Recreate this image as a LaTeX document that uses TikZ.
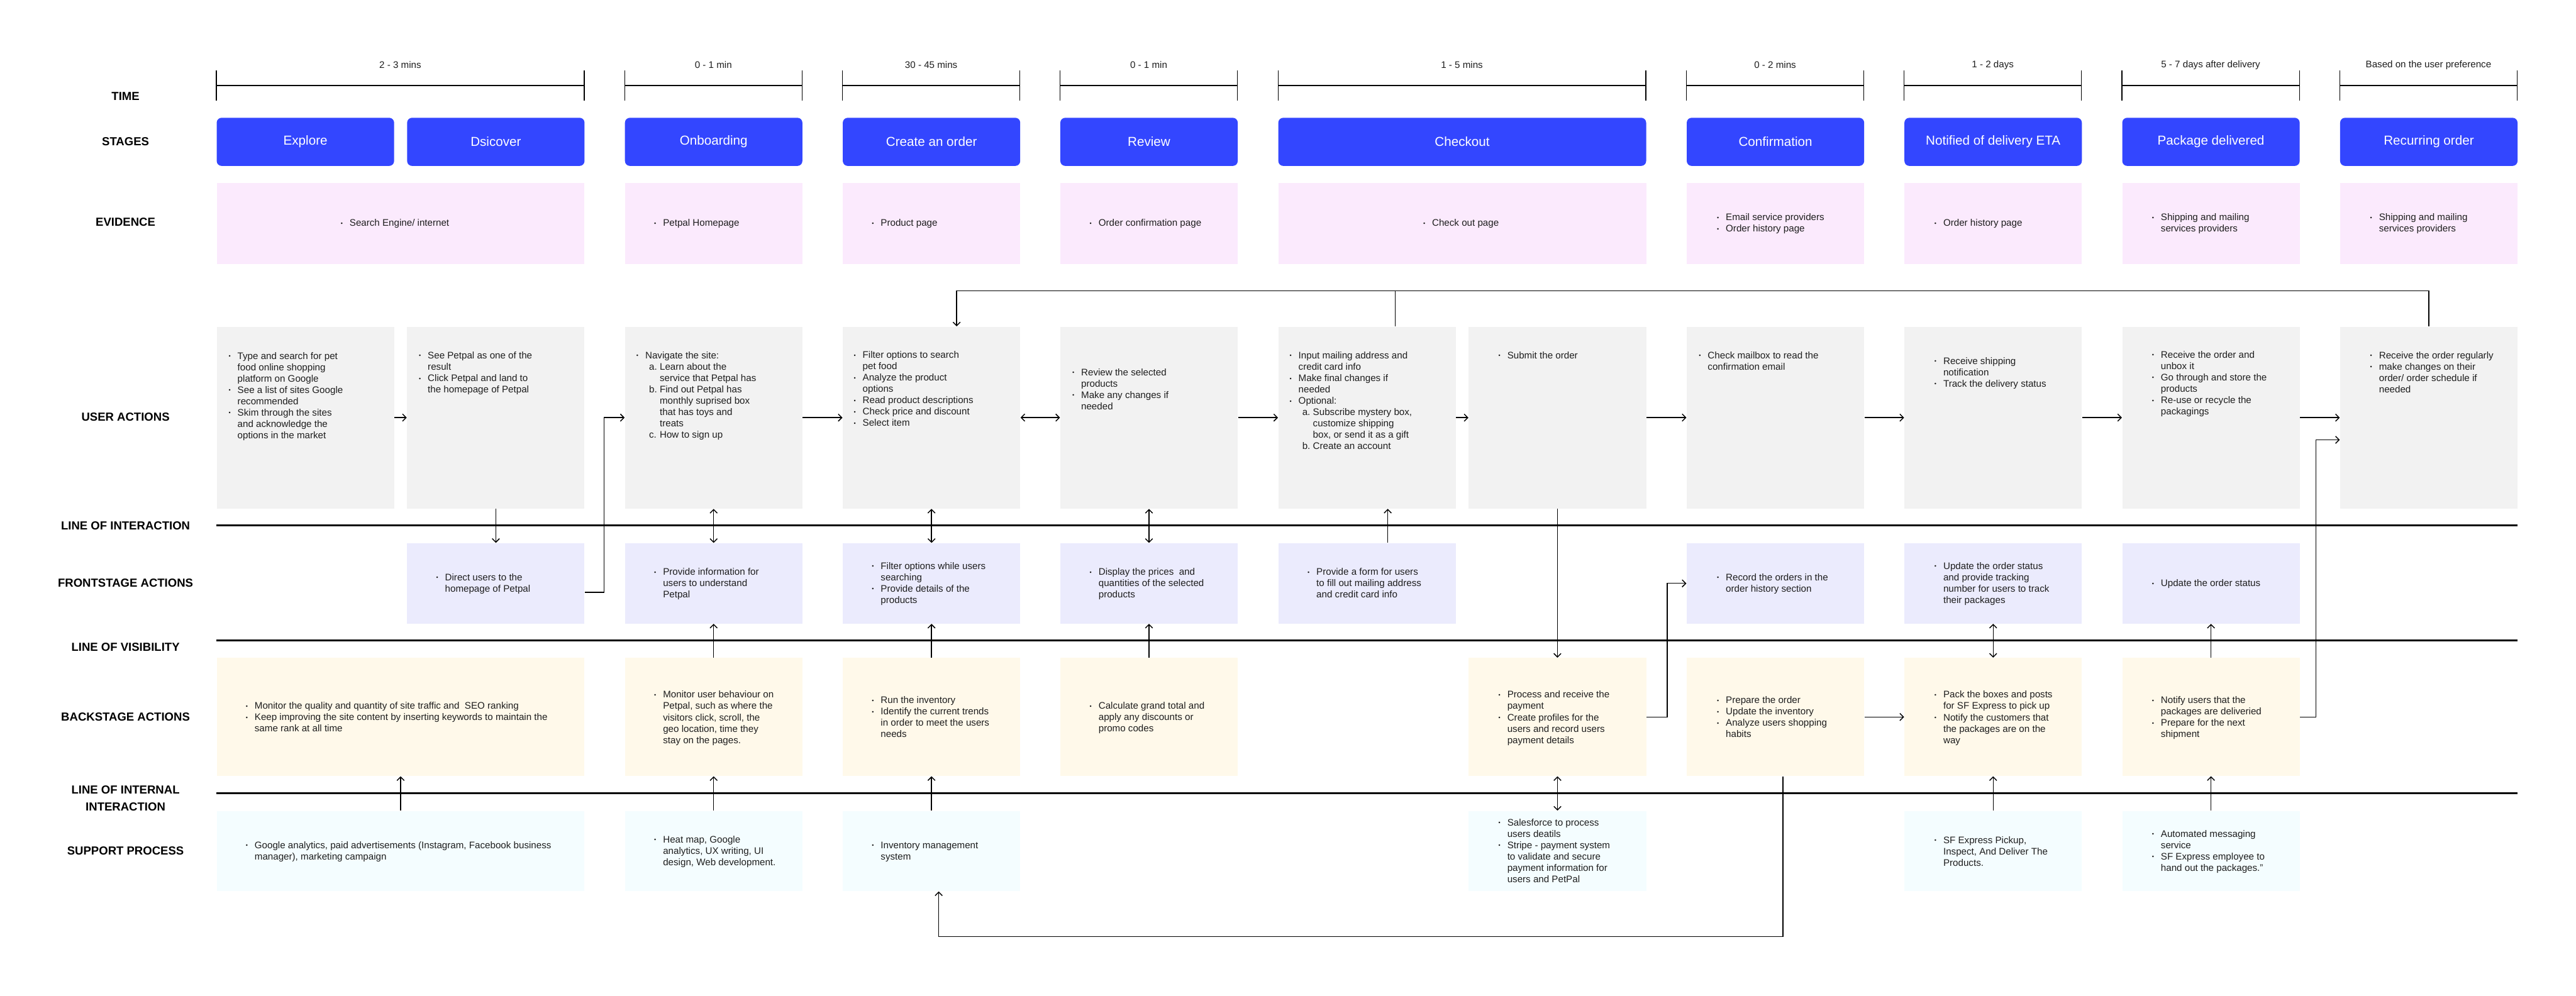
\documentclass[tikz,border=0pt]{standalone}
\usepackage{fontspec}
\usepackage{graphicx}
\setmainfont{Liberation Sans}
\usetikzlibrary{arrows.meta,calc}
\definecolor{stblue}{RGB}{51,70,255}
\definecolor{evpink}{RGB}{251,234,253}
\definecolor{uagrey}{RGB}{242,242,242}
\definecolor{frlav}{RGB}{235,235,253}
\definecolor{bkcream}{RGB}{255,249,234}
\definecolor{spcyan}{RGB}{244,253,255}
\definecolor{txtc}{RGB}{30,30,30}
\newcommand\mybul{\rule{0pt}{4.6pt}\makebox[5.4pt][l]{\raisebox{0.6pt}{\scalebox{0.6}{\textbullet}}}}
\newcommand\myind{\hspace*{5.4pt}}
\newcommand\mysub[1]{\hspace*{7.7pt}\makebox[6.5pt][l]{#1}}
\newcommand\mycont{\hspace*{14.2pt}}
\begin{document}
\begin{tikzpicture}[x=1pt,y=-1pt,
  box/.style={draw=none, inner sep=0pt, anchor=north west, minimum width=108pt},
  wide/.style={minimum width=223.9pt},
  stage/.style={box, fill=stblue, rounded corners=3pt, minimum height=29.3pt, text=white, font=\fontsize{7.9}{9}\selectfont},
  ev/.style={box, fill=evpink, minimum height=49.1pt},
  ua/.style={box, fill=uagrey, minimum height=110.7pt},
  fr/.style={box, fill=frlav, minimum height=48.9pt},
  bk/.style={box, fill=bkcream, minimum height=71.8pt},
  sp/.style={box, fill=spcyan, minimum height=48.8pt},
  txt/.style={font=\fontsize{5.8}{6.9}\selectfont, text=txtc, align=left, inner sep=0pt, anchor=north west},
  tml/.style={font=\fontsize{5.8}{6.9}\selectfont, text=txtc, inner sep=0pt},
  lab/.style={font=\bfseries\fontsize{7.1}{10.5}\selectfont, align=center, inner sep=0pt},
  tick/.style={line width=0.45pt},
  tline/.style={line width=0.75pt},
  sepline/.style={line width=1.2pt},
  conn/.style={line width=0.55pt},
  arr/.style={conn, -{Straight Barb[length=2.2pt,width=4.4pt]}},
  dbl/.style={conn, {Straight Barb[length=2.2pt,width=4.4pt]}-{Straight Barb[length=2.2pt,width=4.4pt]}}
]
\useasboundingbox (0,0) rectangle (1568,606);
\fill[white] (0,0) rectangle (1568,606);

% ---------- row labels ----------
\node[lab] (l-time) at (76.4,58.7) {TIME};
\node[lab] (l-stages) at (76.4,86.1) {STAGES};
\node[lab] (l-ev) at (76.4,135.2) {EVIDENCE};
\node[lab] (l-ua) at (76.4,253.9) {USER ACTIONS};
\node[lab] (l-loi) at (76.4,320) {LINE OF INTERACTION};
\node[lab] (l-fr) at (76.4,355) {FRONTSTAGE ACTIONS};
\node[lab] (l-lov) at (76.4,394) {LINE OF VISIBILITY};
\node[lab] (l-bk) at (76.4,436.4) {BACKSTAGE ACTIONS};
\node[lab] (l-lii) at (76.4,486) {LINE OF INTERNAL\\INTERACTION};
\node[lab] (l-sp) at (76.4,517.8) {SUPPORT PROCESS};

% ---------- time brackets ----------
\foreach \a/\b/\t [count=\i] in {131.7/355.6/2 - 3 mins, 380.2/488.2/0 - 1 min, 512.8/620.8/30 - 45 mins, 645.2/753.2/0 - 1 min, 777.9/1001.8/1 - 5 mins, 1026.5/1134.5/0 - 2 mins, 1159/1267/1 - 2 days, 1291.6/1399.6/5 - 7 days after delivery, 1424.2/1532.2/Based on the user preference}{
  \draw[tick] (\a,43) -- (\a,61.4);
  \draw[tick] (\b,43) -- (\b,61.4);
  \draw[tline] (\a,51.9) -- (\b,51.9);
  \node[tml] (tm\i) at ({(\a+\b)/2},39.6) {\t};
}

% ---------- stages ----------
\node[stage] (st1) at (131.7,71.5) {Explore};
\node[stage] (st2) at (247.6,71.5) {Dsicover};
\node[stage] (st3) at (380.2,71.5) {Onboarding};
\node[stage] (st4) at (512.8,71.5) {Create an order};
\node[stage] (st5) at (645.2,71.5) {Review};
\node[stage, wide] (st6) at (777.9,71.5) {Checkout};
\node[stage] (st8) at (1026.5,71.5) {Confirmation};
\node[stage] (st9) at (1159,71.5) {Notified of delivery ETA};
\node[stage] (st10) at (1291.6,71.5) {Package delivered};
\node[stage] (st11) at (1424.2,71.5) {Recurring order};

% ---------- evidence ----------
\node[ev, wide] (ev12) at (131.7,111.3) {};
\node[ev] (ev3) at (380.2,111.3) {};
\node[ev] (ev4) at (512.8,111.3) {};
\node[ev] (ev5) at (645.2,111.3) {};
\node[ev, wide] (ev67) at (777.9,111.3) {};
\node[ev] (ev8) at (1026.5,111.3) {};
\node[ev] (ev9) at (1159,111.3) {};
\node[ev] (ev10) at (1291.6,111.3) {};
\node[ev] (ev11) at (1424.2,111.3) {};

\node[txt] (t-ev12) at (207.2,132.9) {\mybul Search Engine/ internet};
\node[txt] (t-ev3) at (398.0,132.9) {\mybul Petpal Homepage};
\node[txt] (t-ev4) at (530.5,132.9) {\mybul Product page};
\node[txt] (t-ev5) at (663.1,132.9) {\mybul Order confirmation page};
\node[txt] (t-ev67) at (866.1,132.9) {\mybul Check out page};
\node[txt] (t-ev8) at (1044.9,129.4) {\mybul Email service providers\\\mybul Order history page};
\node[txt] (t-ev9) at (1177.3,132.9) {\mybul Order history page};
\node[txt] (t-ev10) at (1309.7,129.4) {\mybul Shipping and mailing\\\myind services providers};
\node[txt] (t-ev11) at (1442.5,129.4) {\mybul Shipping and mailing\\\myind services providers};

% ---------- user actions ----------
\node[ua] (ua1) at (131.7,198.7) {};
\node[ua] (ua2) at (247.6,198.7) {};
\node[ua] (ua3) at (380.2,198.7) {};
\node[ua] (ua4) at (512.8,198.7) {};
\node[ua] (ua5) at (645.2,198.7) {};
\node[ua] (ua6) at (777.9,198.7) {};
\node[ua] (ua7) at (893.8,198.7) {};
\node[ua] (ua8) at (1026.5,198.7) {};
\node[ua] (ua9) at (1159,198.7) {};
\node[ua] (ua10) at (1291.6,198.7) {};
\node[ua] (ua11) at (1424.2,198.7) {};

\node[txt] (t-ua1) at (139.0,213.8) {\mybul Type and search for pet\\\myind food online shopping\\\myind platform on Google\\\mybul See a list of sites Google\\\myind recommended\\\mybul Skim through the sites\\\myind and acknowledge the\\\myind options in the market};
\node[txt] (t-ua2) at (254.8,213.6) {\mybul See Petpal as one of the\\\myind result\\\mybul Click Petpal and land to\\\myind the homepage of Petpal};
\node[txt] (t-ua3) at (387.2,213.6) {\mybul Navigate the site:\\\mysub{a.}Learn about the\\\mycont service that Petpal has\\\mysub{b.}Find out Petpal has\\\mycont monthly suprised box\\\mycont that has toys and\\\mycont treats\\\mysub{c.}How to sign up};
\node[txt] (t-ua4) at (519.5,213.3) {\mybul Filter options to search\\\myind pet food\\\mybul Analyze the product\\\myind options\\\mybul Read product descriptions\\\mybul Check price and discount\\\mybul Select item};
\node[txt] (t-ua5) at (652.5,223.8) {\mybul Review the selected\\\myind products\\\mybul Make any changes if\\\myind needed};
\node[txt] (t-ua6) at (784.8,213.6) {\mybul Input mailing address and\\\myind credit card info\\\mybul Make final changes if\\\myind needed\\\mybul Optional:\\\mysub{a.}Subscribe mystery box,\\\mycont customize shipping\\\mycont box, or send it as a gift\\\mysub{b.}Create an account};
\node[txt] (t-ua7) at (911.9,213.6) {\mybul Submit the order};
\node[txt] (t-ua8) at (1033.9,213.6) {\mybul Check mailbox to read the\\\myind confirmation email};
\node[txt] (t-ua9) at (1177.3,217.0) {\mybul Receive shipping\\\myind notification\\\mybul Track the delivery status};
\node[txt] (t-ua10) at (1309.7,213.2) {\mybul Receive the order and\\\myind unbox it\\\mybul Go through and store the\\\myind products\\\mybul Re-use or recycle the\\\myind packagings};
\node[txt] (t-ua11) at (1442.5,213.6) {\mybul Receive the order regularly\\\mybul make changes on their\\\myind order/ order schedule if\\\myind needed};

% ---------- frontstage ----------
\node[fr] (fr2) at (247.6,330.5) {};
\node[fr] (fr3) at (380.2,330.5) {};
\node[fr] (fr4) at (512.8,330.5) {};
\node[fr] (fr5) at (645.2,330.5) {};
\node[fr] (fr6) at (777.9,330.5) {};
\node[fr] (fr8) at (1026.5,330.5) {};
\node[fr] (fr9) at (1159,330.5) {};
\node[fr] (fr10) at (1291.6,330.5) {};

\node[txt] (t-fr2) at (265.3,348.7) {\mybul Direct users to the\\\myind homepage of Petpal};
\node[txt] (t-fr3) at (398.0,345.3) {\mybul Provide information for\\\myind users to understand\\\myind Petpal};
\node[txt] (t-fr4) at (530.5,341.8) {\mybul Filter options while users\\\myind searching\\\mybul Provide details of the\\\myind products};
\node[txt] (t-fr5) at (663.1,345.3) {\mybul Display the prices\ \ and\\\myind quantities of the selected\\\myind products};
\node[txt] (t-fr6) at (795.7,345.3) {\mybul Provide a form for users\\\myind to fill out mailing address\\\myind and credit card info};
\node[txt] (t-fr8) at (1044.9,348.7) {\mybul Record the orders in the\\\myind order history section};
\node[txt] (t-fr9) at (1177.3,341.8) {\mybul Update the order status\\\myind and provide tracking\\\myind number for users to track\\\myind their packages};
\node[txt] (t-fr10) at (1309.7,352.3) {\mybul Update the order status};

% ---------- backstage ----------
\node[bk, wide] (bk12) at (131.7,400.4) {};
\node[bk] (bk3) at (380.2,400.4) {};
\node[bk] (bk4) at (512.8,400.4) {};
\node[bk] (bk5) at (645.2,400.4) {};
\node[bk] (bk7) at (893.8,400.4) {};
\node[bk] (bk8) at (1026.5,400.4) {};
\node[bk] (bk9) at (1159,400.4) {};
\node[bk] (bk10) at (1291.6,400.4) {};

\node[txt] (t-bk12) at (149.4,426.9) {\mybul Monitor the quality and quantity of site traffic and\ \ SEO ranking\\\mybul Keep improving the site content by inserting keywords to maintain the\\\myind same rank at all time};
\node[txt] (t-bk3) at (398.0,420.1) {\mybul Monitor user behaviour on\\\myind Petpal, such as where the\\\myind visitors click, scroll, the\\\myind geo location, time they\\\myind stay on the pages.};
\node[txt] (t-bk4) at (530.5,423.4) {\mybul Run the inventory\\\mybul Identify the current trends\\\myind in order to meet the users\\\myind needs};
\node[txt] (t-bk5) at (663.1,426.9) {\mybul Calculate grand total and\\\myind apply any discounts or\\\myind promo codes};
\node[txt] (t-bk7) at (911.9,420.1) {\mybul Process and receive the\\\myind payment\\\mybul Create profiles for the\\\myind users and record users\\\myind payment details};
\node[txt] (t-bk8) at (1044.9,423.4) {\mybul Prepare the order\\\mybul Update the inventory\\\mybul Analyze users shopping\\\myind habits};
\node[txt] (t-bk9) at (1177.3,420.1) {\mybul Pack the boxes and posts\\\myind for SF Express to pick up\\\mybul Notify the customers that\\\myind the packages are on the\\\myind way};
\node[txt] (t-bk10) at (1309.7,423.4) {\mybul Notify users that the\\\myind packages are deliveried\\\mybul Prepare for the next\\\myind shipment};

% ---------- support ----------
\node[sp, wide] (sp12) at (131.7,493.5) {};
\node[sp] (sp3) at (380.2,493.5) {};
\node[sp] (sp4) at (512.8,493.5) {};
\node[sp] (sp7) at (893.8,493.5) {};
\node[sp] (sp9) at (1159,493.5) {};
\node[sp] (sp10) at (1291.6,493.5) {};

\node[txt] (t-sp12) at (149.4,511.8) {\mybul Google analytics, paid advertisements (Instagram, Facebook business\\\myind manager), marketing campaign};
\node[txt] (t-sp3) at (398.0,508.3) {\mybul Heat map, Google\\\myind analytics, UX writing, UI\\\myind design, Web development.};
\node[txt] (t-sp4) at (530.5,511.8) {\mybul Inventory management\\\myind system};
\node[txt] (t-sp7) at (911.9,498.0) {\mybul Salesforce to process\\\myind users deatils\\\mybul Stripe - payment system\\\myind to validate and secure\\\myind payment information for\\\myind users and PetPal};
\node[txt] (t-sp9) at (1177.3,508.6) {\mybul SF Express Pickup,\\\myind Inspect, And Deliver The\\\myind Products.};
\node[txt] (t-sp10) at (1309.7,504.9) {\mybul Automated messaging\\\myind service\\\mybul SF Express employee to\\\myind hand out the packages.”};

% ---------- separator lines ----------
\draw[sepline] (131.7,319.9) -- (1532.2,319.9);
\draw[sepline] (131.7,390.0) -- (1532.2,390.0);
\draw[sepline] (131.7,482.9) -- (1532.2,482.9);

% ---------- connectors ----------
% user action flow
\draw[arr] (ua1.east) -- (ua2.west);
\draw[arr] (ua3.east) -- (ua4.west);
\draw[dbl] (ua4.east) -- (ua5.west);
\draw[arr] (ua5.east) -- (ua6.west);
\draw[arr] (ua6.east) -- (ua7.west);
\draw[arr] (ua7.east) -- (ua8.west);
\draw[arr] (ua8.east) -- (ua9.west);
\draw[arr] (ua9.east) -- (ua10.west);
\draw[arr] (ua10.east) -- (ua11.west);

% Dsicover
\draw[arr] (ua2.south) -- (fr2.north);
\draw[arr] ([yshift=-5.5pt]fr2.east) -- ++(11.6,0) |- (ua3.west);
% Onboarding
\draw[dbl] (ua3.south) -- (fr3.north);
\draw[arr] (bk3.north) -- (fr3.south);
\draw[arr] (sp3.north) -- (bk3.south);
% Create an order
\draw[dbl] (ua4.south) -- (fr4.north);
\draw[arr] (bk4.north) -- (fr4.south);
\draw[arr] (sp4.north) -- (bk4.south);
% Review
\draw[dbl] (ua5.south) -- (fr5.north);
\draw[arr] (bk5.north) -- (fr5.south);
% Explore / Discover support
\draw[arr] (sp12.north) -- (bk12.south);
% Checkout
\draw[arr] ([xshift=12.6pt]fr6.north) -- ([xshift=12.6pt]ua6.south);
\draw[arr] (ua7.south) -- (bk7.north);
\draw[dbl] (bk7.south) -- (sp7.north);
\draw[arr] (bk7.east) -- ++(12.7,0) |- (fr8.west);
% Confirmation -> Notified
\draw[arr] (bk8.east) -- (bk9.west);
% Notified
\draw[dbl] (fr9.south) -- (bk9.north);
\draw[arr] (sp9.north) -- (bk9.south);
% Package delivered
\draw[arr] (bk10.north) -- (fr10.south);
\draw[arr] (sp10.north) -- (bk10.south);
\draw[arr] (bk10.east) -- ++(9.7,0) |- ([yshift=-13.55pt]ua11.west);
% top loop
\draw[arr] (ua11.north) -- ++(0,-21.6) -| ([xshift=15.3pt]ua4.north);
\draw[conn] ([xshift=17.2pt]ua6.north) -- ++(0,-21.6);
% bottom loop
\draw[arr] ([xshift=4.5pt]bk8.south) -- ++(0,97.6) -| ([xshift=4.4pt]sp4.south);
\end{tikzpicture}
\end{document}
